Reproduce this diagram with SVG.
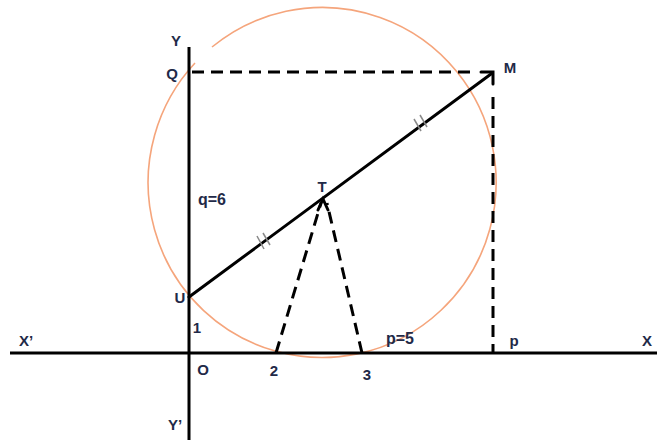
<svg xmlns="http://www.w3.org/2000/svg" width="657" height="440" viewBox="0 0 657 440">
<style>
.lbl{font-family:"Liberation Sans",Arial,sans-serif;font-weight:bold;font-size:15px;fill:#1f2a48;text-anchor:middle;dominant-baseline:central}
.big{font-size:16px}
.axis{stroke:#000;stroke-width:3;fill:none}
.solid{stroke:#000;stroke-width:3;fill:none;stroke-linecap:round}
.dash{stroke:#000;stroke-width:3;fill:none;stroke-dasharray:12 7}
.tick{stroke:#888;stroke-width:1.5}
.circ{stroke:#f5a57c;stroke-width:1.6;fill:none}
</style>
<rect width="657" height="440" fill="#fff"/>
<g id="circle">
<path class="circ" d="M212,47 A174,175 0 1 1 195,63"/>
</g>
<g id="connectors">
<line class="axis" x1="10" y1="353" x2="657" y2="353"/>
<line class="axis" x1="189" y1="47" x2="189" y2="440"/>
<line class="dash" x1="192" y1="72" x2="472" y2="72"/>
<line class="dash" x1="493" y1="97" x2="493" y2="353"/>
<line class="solid" x1="189" y1="297" x2="491" y2="74"/>
<polyline class="solid" points="481,72 493,72 493,84"/>
<line class="dash" x1="276" y1="353" x2="321" y2="203"/>
<line class="dash" x1="362" y1="353" x2="327" y2="203"/>
<polyline class="solid" points="318,210 323,199 328,210"/>
<g id="ticks">
<line class="tick" x1="257" y1="236" x2="264" y2="249"/>
<line class="tick" x1="263" y1="233" x2="270" y2="245"/>
<line class="tick" x1="414" y1="119" x2="421" y2="131"/>
<line class="tick" x1="420" y1="115" x2="427" y2="127"/>
</g>
</g>
<g id="node-Y"><text class="lbl" x="176" y="40">Y</text></g>
<g id="node-Q"><text class="lbl" x="172" y="73">Q</text></g>
<g id="node-M"><text class="lbl" x="510" y="67">M</text></g>
<g id="node-T"><text class="lbl" x="322" y="186">T</text></g>
<g id="node-q"><text class="lbl big" x="212" y="199">q=6</text></g>
<g id="node-U"><text class="lbl" x="180" y="297">U</text></g>
<g id="node-1"><text class="lbl" x="197" y="327">1</text></g>
<g id="node-O"><text class="lbl" x="203" y="369">O</text></g>
<g id="node-2"><text class="lbl" x="274" y="370">2</text></g>
<g id="node-3"><text class="lbl" x="367" y="374">3</text></g>
<g id="node-p5"><text class="lbl big" x="400" y="338">p=5</text></g>
<g id="node-p"><text class="lbl" x="514" y="340">p</text></g>
<g id="node-X"><text class="lbl" x="647" y="340">X</text></g>
<g id="node-X1"><text class="lbl" x="26" y="340">X’</text></g>
<g id="node-Y1"><text class="lbl" x="175" y="424">Y’</text></g>
</svg>
